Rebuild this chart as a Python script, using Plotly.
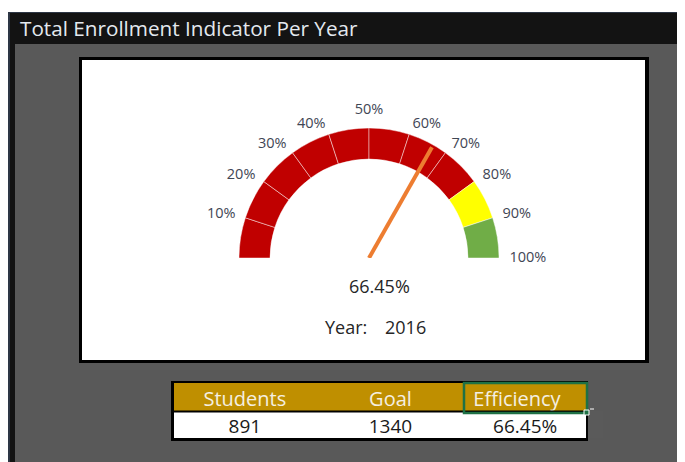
import plotly.graph_objects as go

# ---------------- data ----------------
title_text = "Total Enrollment Indicator Per Year"
segment_pcts = [10, 10, 10, 10, 10, 10, 10, 10, 10, 10]
segment_colors = ["#C00000"] * 8 + ["#FFFF00", "#70AD47"]
tick_pcts = [10, 20, 30, 40, 50, 60, 70, 80, 90, 100]
tick_labels = ["10%", "20%", "30%", "40%", "50%", "60%", "70%", "80%", "90%", "100%"]
needle_pct = 66.45
year = 2016
table_headers = ["Students", "Goal", "Efficiency"]
table_values = ["891", "1340", "66.45%"]

# the page body adds an 8px margin; the figure fills the rest of the window
OFF = 8
W, H = 685 - OFF, 462 - OFF
FONT = "Open Sans"


def px(x):
    return (x - OFF) / W


def py(y):
    return 1 - (y - OFF) / H


DEG = 180 / 100.0  # degrees per percent on a half-circle gauge

# gauge geometry in window pixels (ring outer radius = 1 in radial units)
cx, cy, R = 369, 258, 130
HOLE = 99 / 130
RMAX = 1.35
dom_x = [px(cx - R * RMAX), px(cx + R * RMAX)]
dom_y = [py(cy), py(cy - R * RMAX)]

thetas = []
acc = 0
for p in segment_pcts:
    thetas.append((acc + p / 2) * DEG)
    acc += p
widths = [p * DEG for p in segment_pcts]

tick_thetas = [t * DEG for t in tick_pcts]
tick_pos = ["middle left" if t < 85 else ("top center" if t <= 95 else "middle right") for t in tick_thetas]

fig = go.Figure()

fig.add_trace(go.Barpolar(
    r=[1 - HOLE] * len(segment_pcts), base=[HOLE] * len(segment_pcts),
    theta=thetas, width=widths,
    marker=dict(color=segment_colors, line=dict(color="rgba(255,255,255,0.45)", width=1)),
    hoverinfo="skip", showlegend=False,
))

fig.add_trace(go.Scatterpolar(
    r=[1.08] * len(tick_pcts), theta=tick_thetas, mode="text",
    text=tick_labels, textposition=tick_pos, cliponaxis=False,
    textfont=dict(family=FONT, size=14.5, color="#3f4654"),
    hoverinfo="skip", showlegend=False,
))

fig.add_trace(go.Scatterpolar(
    r=[0, 0.98], theta=[needle_pct * DEG, needle_pct * DEG], mode="lines",
    line=dict(color="#ED7D31", width=4), hoverinfo="skip", showlegend=False,
))

fig.add_trace(go.Table(
    domain=dict(x=[px(174), px(586)], y=[py(438), py(383)]),
    columnwidth=[142, 150, 120],
    header=dict(values=table_headers, fill_color="#BF8F00",
                line=dict(color="#BF8F00", width=1),
                align=["center", "center", "left"], height=28,
                font=dict(family=FONT, size=20, color="#F5EFE2")),
    cells=dict(values=[[v] for v in table_values], fill_color="white",
               line=dict(color="white", width=1),
               align=["center", "center", "center"], height=27,
               font=dict(family=FONT, size=19, color="#1a1a1a")),
))

fig.update_layout(
    width=W, height=H, margin=dict(l=0, r=0, t=0, b=0),
    paper_bgcolor="white", plot_bgcolor="white",
    polar=dict(
        domain=dict(x=dom_x, y=dom_y), sector=[0, 180],
        bgcolor="rgba(0,0,0,0)",
        radialaxis=dict(visible=False, range=[0, RMAX]),
        angularaxis=dict(rotation=180, direction="clockwise", thetaunit="degrees",
                         showticklabels=False, ticks="",
                         showgrid=False, showline=False),
    ),
)

shapes = [
    # outer frame
    dict(type="rect", x0=px(8), x1=px(700), y0=py(12), y1=py(480), fillcolor="#2d3645", line_width=0, layer="below"),
    dict(type="rect", x0=px(10), x1=px(700), y0=py(13), y1=py(480), fillcolor="#131313", line_width=0, layer="below"),
    dict(type="rect", x0=px(15), x1=px(700), y0=py(44), y1=py(480), fillcolor="#595959", line_width=0, layer="below"),
    # chart box
    dict(type="rect", x0=px(79), x1=px(649), y0=py(57), y1=py(363), fillcolor="#000000", line_width=0, layer="below"),
    dict(type="rect", x0=px(82), x1=px(645), y0=py(60), y1=py(360), fillcolor="#ffffff", line_width=0, layer="below"),
    # table frame
    dict(type="rect", x0=px(171), x1=px(588), y0=py(381), y1=py(441), fillcolor="#000000", line_width=0, layer="below"),
    # header/body separator
    dict(type="line", x0=px(174), x1=px(586), y0=py(411.5), y1=py(411.5), line=dict(color="#000000", width=2), layer="above"),
    # selected cell
    dict(type="rect", x0=px(464), x1=px(587), y0=py(383), y1=py(413), line=dict(color="#1E7145", width=2.5), layer="above"),
    dict(type="rect", x0=px(584), x1=px(589), y0=py(410), y1=py(415), fillcolor="#1E7145", line=dict(color="white", width=1), layer="above"),
    dict(type="line", x0=px(590), x1=px(594), y0=py(409), y1=py(409), line=dict(color="white", width=1), layer="above"),
]
fig.update_layout(shapes=shapes)

annotations = [
    dict(text=title_text, x=px(18), y=py(28), xanchor="left", yanchor="middle",
         font=dict(family=FONT, size=20.7, color="#e4e9ef")),
    dict(text=f"{needle_pct:.2f}%", x=px(379), y=py(286), xanchor="center", yanchor="middle",
         font=dict(family=FONT, size=18, color="#262626")),
    dict(text="Year:", x=px(323), y=py(327), xanchor="left", yanchor="middle",
         font=dict(family=FONT, size=18, color="#262626")),
    dict(text=str(year), x=px(428), y=py(327), xanchor="right", yanchor="middle",
         font=dict(family=FONT, size=18, color="#262626")),
]
for a in annotations:
    a.update(xref="paper", yref="paper", showarrow=False)
fig.update_layout(annotations=annotations)

fig.write_html("out.html")
